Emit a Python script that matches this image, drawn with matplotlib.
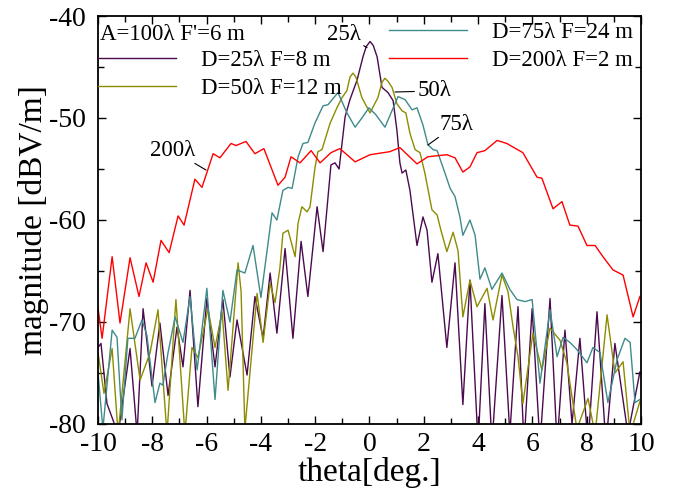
import matplotlib
matplotlib.use("Agg")
import matplotlib.pyplot as plt
from matplotlib.lines import Line2D
from matplotlib.ticker import MultipleLocator

plt.rcParams['font.family'] = ['Liberation Serif', 'DejaVu Serif']
plt.rcParams['axes.unicode_minus'] = False

# D=25 lambda, F=8 m
th25 = [-10.00, -9.89, -9.67, -9.45, -9.26, -8.82, -8.56, -8.34, -8.01, -7.72,
        -7.42, -7.09, -6.87, -6.61, -6.32, -5.99, -5.69, -5.40, -5.14, -4.88,
        -4.51, -4.22, -3.92, -3.66, -3.41, -3.11, -2.82, -2.52, -2.27, -1.93,
        -1.71, -1.42, -1.27, -1.12, -0.90, -0.72, -0.46, -0.24, -0.12, 0.02, 0.14, 0.28,
        0.46, 0.68, 0.87, 1.01, 1.12, 1.20, 1.34, 1.49, 1.75, 1.97,
        2.12, 2.30, 2.52, 2.85, 3.15, 3.44, 3.70, 4.00, 4.25, 4.51,
        4.88, 5.17, 5.47, 5.69, 5.99, 6.28, 6.65, 6.91, 7.20, 7.46,
        7.75, 8.05, 8.38, 8.71, 9.04, 9.52, 9.96]
mag25 = [-72.5, -72.1, -78.0, -79.6, -81.0, -72.6, -81.0, -68.7, -76.3, -70.1,
         -77.2, -70.5, -74.4, -66.9, -78.3, -67.7, -74.4, -67.8, -75.4, -69.8,
         -75.2, -67.5, -71.6, -65.2, -71.1, -62.8, -71.6, -62.1, -67.5, -58.7,
         -63.1, -54.6, -54.4, -55.0, -49.9, -48.2, -46.3, -44.0, -43.0, -42.5, -42.9, -44.0,
         -47.0, -47.5, -48.3, -51.2, -54.4, -55.4, -55.1, -57.1, -62.5, -59.7,
         -61.0, -66.1, -63.3, -72.5, -64.2, -78.1, -65.9, -82.0, -68.2, -82.0,
         -67.4, -81.0, -68.5, -82.0, -68.7, -82.0, -67.7, -82.0, -70.8, -80.0,
         -71.6, -82.0, -69.0, -82.0, -72.1, -81.0, -74.9]

# D=50 lambda, F=12 m
th50 = [-10.00, -9.78, -9.48, -9.26, -8.82, -8.45, -8.08, -7.79, -7.46, -7.13,
        -6.80, -6.54, -6.32, -5.95, -5.69, -5.43, -5.21, -4.84, -4.73, -4.59,
        -4.14, -3.92, -3.66, -3.48, -3.30, -3.19, -3.00, -2.74, -2.63, -2.49,
        -2.30, -2.19, -2.01, -1.90, -1.75, -1.45, -1.20, -1.01, -0.83, -0.72, -0.61, -0.50,
        -0.28, 0.02, 0.31, 0.46, 0.57, 0.68, 0.83, 1.01, 1.20, 1.34, 1.49, 1.68,
        1.86, 2.04, 2.30, 2.49, 2.63, 2.85, 3.08, 3.26, 3.44, 3.70,
        3.96, 4.33, 4.55, 4.88, 5.10, 5.29, 5.47, 5.65, 6.02, 6.35,
        6.65, 7.02, 7.27, 7.64, 8.05, 8.31, 8.75, 9.04, 9.34, 9.60, 9.96]
mag50 = [-73.0, -77.0, -72.6, -81.0, -68.7, -75.7, -73.0, -68.8, -81.0, -67.8,
         -81.0, -72.5, -73.5, -68.7, -72.5, -69.0, -76.7, -64.2, -67.0, -80.5,
         -67.2, -72.0, -66.2, -68.1, -64.7, -61.3, -61.0, -63.6, -60.3, -58.7,
         -59.2, -58.7, -54.9, -53.3, -53.1, -50.5, -49.0, -48.0, -47.3, -46.0, -45.6, -46.0,
         -48.0, -49.5, -48.0, -46.5, -46.1, -46.4, -47.0, -48.6, -49.3, -49.5, -51.5, -53.1,
         -53.4, -55.4, -59.0, -59.5, -61.0, -63.1, -61.2, -63.0, -69.5, -65.9,
         -68.5, -66.7, -69.8, -65.4, -67.0, -70.5, -73.4, -78.0, -71.1, -74.7,
         -70.6, -71.8, -74.0, -80.5, -77.5, -81.0, -69.3, -75.0, -73.9, -81.0, -77.8]

# D=75 lambda, F=24 m
th75 = [-10.00, -9.82, -9.48, -9.30, -9.12, -8.90, -8.64, -8.38, -8.20, -7.90,
        -7.72, -7.61, -7.42, -7.16, -6.87, -6.61, -6.35, -5.99, -5.69, -5.40,
        -5.14, -4.88, -4.59, -4.29, -4.00, -3.59, -3.41, -3.19, -3.00, -2.85,
        -2.63, -2.45, -2.27, -2.01, -1.71, -1.53, -1.16, -0.83, -0.53, -0.28,
        -0.02, 0.24, 0.57, 1.05, 1.31, 1.57, 1.75, 1.97, 2.15, 2.34,
        2.49, 2.78, 2.97, 3.15, 3.33, 3.44, 3.70, 3.89, 4.07, 4.25,
        4.51, 4.88, 5.17, 5.43, 5.73, 5.99, 6.28, 6.65, 6.91, 7.13,
        7.38, 7.64, 8.01, 8.23, 8.49, 8.78, 9.12, 9.41, 9.60, 9.78, 9.96]
mag75 = [-75.0, -80.5, -70.8, -71.5, -79.6, -71.6, -71.6, -69.8, -71.3, -77.9,
         -76.0, -76.2, -73.0, -69.5, -72.0, -67.5, -74.7, -66.7, -77.6, -66.9,
         -70.0, -64.9, -65.2, -62.5, -67.6, -59.3, -60.0, -57.1, -56.8, -56.9,
         -53.8, -52.5, -52.4, -50.5, -48.8, -48.7, -47.5, -49.5, -50.9, -50.0,
         -49.0, -49.7, -50.9, -47.9, -48.2, -49.2, -49.0, -50.7, -52.6, -53.1,
         -53.2, -55.4, -56.9, -57.7, -59.7, -61.5, -60.0, -61.5, -65.8, -64.7,
         -66.8, -65.2, -66.8, -67.8, -68.0, -67.8, -76.0, -68.8, -73.4, -71.5,
         -72.0, -72.7, -74.0, -72.5, -73.0, -77.9, -73.7, -71.6, -72.0, -77.9, -77.6]

# D=200 lambda, F=2 m
th200 = [-10.00, -9.85, -9.48, -9.19, -8.82, -8.49, -8.23, -7.97, -7.68, -7.38,
         -7.05, -6.83, -6.43, -6.17, -5.76, -5.51, -5.10, -4.92, -4.55, -4.22,
         -3.89, -3.63, -3.37, -3.11, -2.89, -2.56, -2.15, -1.82, -1.42, -1.09,
         -0.53, 0.02, 0.75, 1.12, 1.75, 2.15, 2.85, 3.15, 3.44, 3.70,
         3.96, 4.25, 4.70, 5.06, 5.65, 6.17, 6.35, 6.76, 7.09, 7.38,
         7.68, 8.01, 8.31, 8.60, 8.97, 9.34, 9.71, 9.96]
mag200 = [-68.6, -71.6, -63.6, -70.1, -63.7, -67.5, -64.2, -66.1, -62.0, -63.2,
          -59.6, -60.5, -56.0, -56.8, -53.5, -53.9, -52.5, -52.7, -52.3, -53.5,
          -53.0, -54.8, -56.6, -55.8, -53.8, -54.4, -53.2, -54.4, -53.4, -53.0,
          -54.3, -53.6, -53.3, -52.9, -54.5, -53.8, -53.6, -53.9, -55.3, -54.8,
          -53.4, -53.2, -52.2, -52.5, -53.4, -55.8, -55.9, -58.9, -58.2, -60.5,
          -60.6, -62.5, -62.5, -63.6, -64.9, -65.4, -69.5, -67.5]

fig = plt.figure(figsize=(6.75, 4.91), dpi=100)
ax = fig.add_axes([0.1452, 0.1365, 0.8044, 0.8309])

l25, = ax.plot(th25, mag25, color='#4b0a4e', lw=1.0)
l50, = ax.plot(th50, mag50, color='#8c8c00', lw=1.0)
l75, = ax.plot(th75, mag75, color='#3f8a8a', lw=1.0)
l200, = ax.plot(th200, mag200, color='#ff0000', lw=1.0)

ax.set_xlim(-10, 10)
ax.set_ylim(-80, -40)
ax.xaxis.set_major_locator(MultipleLocator(2))
ax.xaxis.set_minor_locator(MultipleLocator(1))
ax.yaxis.set_major_locator(MultipleLocator(10))
ax.yaxis.set_minor_locator(MultipleLocator(5))
ax.tick_params(which='both', direction='in', top=True, right=True, width=1)
ax.tick_params(which='major', length=6, labelsize=20)
ax.tick_params(axis='x', which='major', pad=6)
ax.tick_params(axis='y', which='major', pad=9)
ax.tick_params(which='minor', length=4)
for s in ax.spines.values():
    s.set_linewidth(1.3)

ax.set_xlabel('theta[deg.]', fontsize=24, labelpad=0)
ax.set_ylabel('magnitude [dBV/m]', fontsize=24, labelpad=0)

blank = Line2D([], [], color='none')
ax.legend([blank, l25, l50, l75, l200, blank],
          ['', 'D=25λ F=8 m', 'D=50λ F=12 m', 'D=75λ F=24 m', 'D=200λ F=2 m', ''],
          ncol=2, loc='upper left', bbox_to_anchor=(0, 0.985), frameon=False,
          fontsize=16.5, handlelength=3.4, handletextpad=1.1, columnspacing=2.05,
          labelspacing=0.3, borderpad=0, borderaxespad=0)
ax.text(0.003, 0.955, "A=100λ F'=6 m", transform=ax.transAxes, fontsize=16.5, va='center')

arrow = dict(arrowstyle='-', lw=0.8, color='k', shrinkA=0, shrinkB=0)
ax.annotate('25λ', xy=(-0.09, -43.1), xytext=(-0.94, -41.8), fontsize=16.5,
            ha='center', va='center', arrowprops=arrow)
ax.annotate('50λ', xy=(0.94, -47.45), xytext=(2.38, -47.35), fontsize=16.5,
            ha='center', va='center', arrowprops=arrow)
ax.annotate('75λ', xy=(2.15, -52.65), xytext=(3.22, -50.6), fontsize=16.5,
            ha='center', va='center', arrowprops=arrow)
ax.annotate('200λ', xy=(-6.02, -55.1), xytext=(-7.27, -53.15), fontsize=16.5,
            ha='center', va='center', arrowprops=arrow)

fig.savefig('out.png', dpi=100)
